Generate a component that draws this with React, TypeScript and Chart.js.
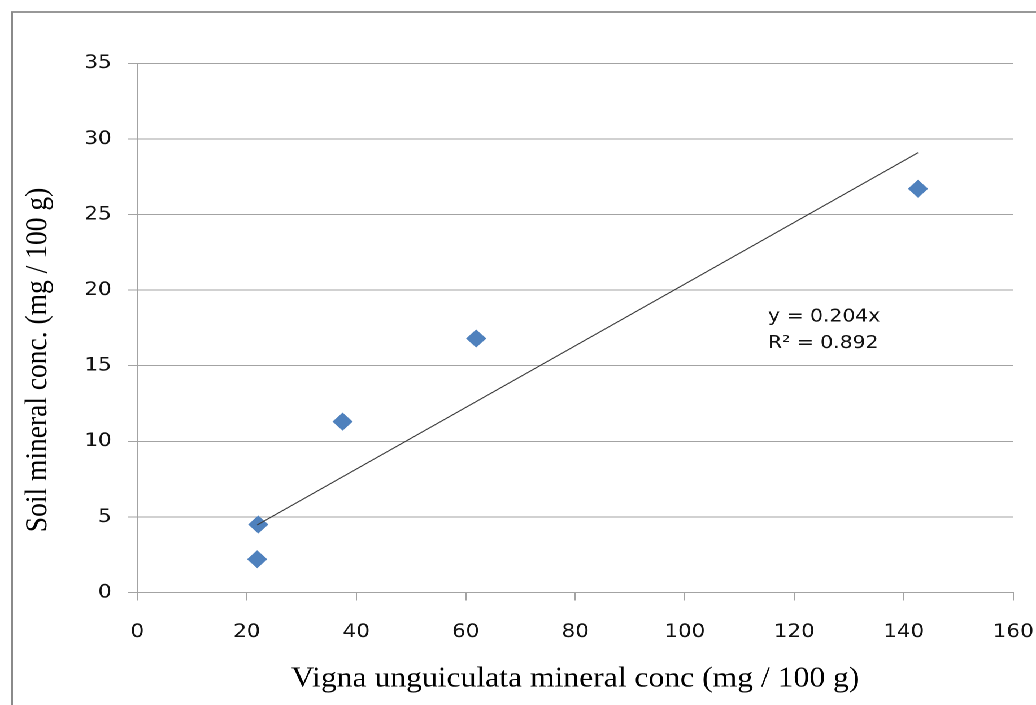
import React, { useEffect, useRef } from "react";
import { Chart, registerables } from "chart.js";

Chart.register(...registerables);

// Mineral concentrations (mg / 100 g): plant tissue vs. soil
const vignaConc = [21.9, 22.1, 37.5, 61.9, 142.6];
const soilConc = [2.2, 4.5, 11.3, 16.8, 26.7];

// Linear trend through the origin
const trendSlope = 0.204;
const trendR2 = 0.892;
const trendLabel = ["y = 0.204x", "R\u00B2 = 0.892"];

const xRange = [0, 160];
const xStep = 20;
const yRange = [0, 35];
const yStep = 5;

const xTitle = "Vigna unguiculata mineral conc (mg / 100 g)";
const yTitle = "Soil mineral conc. (mg / 100 g)";

// The figure is laid out on a narrower canvas and widened horizontally.
const CANVAS_W = 917;
const CANVAS_H = 705;
const STRETCH_X = 1036 / CANVAS_W;

const SANS = '"DejaVu Sans", Verdana, sans-serif';
const SERIF = '"Liberation Serif", "Times New Roman", serif';
const GRID = "#a3a3a3";
const TEXT = "#111111";

const decorations = {
  id: "decorations",
  beforeDraw(chart: any) {
    const ctx = chart.ctx;
    ctx.save();
    ctx.fillStyle = "#ffffff";
    ctx.fillRect(0, 0, chart.width, chart.height);
    // outer frame (left and top edges visible)
    ctx.strokeStyle = "#8a8a8a";
    ctx.lineWidth = 1.8;
    ctx.beginPath();
    ctx.moveTo(10.6, chart.height + 5);
    ctx.lineTo(10.6, 12);
    ctx.lineTo(chart.width + 5, 12);
    ctx.stroke();
    ctx.restore();
  },
  afterDraw(chart: any) {
    const ctx = chart.ctx;
    const area = chart.chartArea;
    ctx.save();
    ctx.fillStyle = "#000000";

    // x-axis title
    ctx.font = `28px ${SERIF}`;
    ctx.textAlign = "center";
    ctx.textBaseline = "alphabetic";
    ctx.fillText(xTitle, (area.left + area.right) / 2, 686.5);

    // y-axis title
    ctx.save();
    ctx.translate(33.6, 360);
    ctx.rotate(-Math.PI / 2);
    ctx.font = `27.5px ${SERIF}`;
    ctx.textAlign = "center";
    ctx.textBaseline = "middle";
    ctx.fillText(yTitle, 0, 0);
    ctx.restore();

    // trend equation
    ctx.font = `18px ${SANS}`;
    ctx.fillStyle = TEXT;
    ctx.textAlign = "left";
    ctx.textBaseline = "middle";
    ctx.fillText(trendLabel[0], 679.8, 316.7);
    ctx.fillText(trendLabel[1], 679.8, 343.3);
    ctx.restore();
  },
};

export default function App() {
  const canvasRef = useRef<HTMLCanvasElement | null>(null);

  useEffect(() => {
    if (!canvasRef.current) return;
    const xMin = Math.min(...vignaConc);
    const xMax = Math.max(...vignaConc);

    const chart = new Chart(canvasRef.current, {
      type: "scatter",
      data: {
        datasets: [
          {
            type: "line",
            label: "Linear trend",
            data: [
              { x: xMin, y: trendSlope * xMin },
              { x: xMax, y: trendSlope * xMax },
            ],
            borderColor: "#3c3c3c",
            borderWidth: 1.1,
            pointRadius: 0,
            fill: false,
            order: 0,
          },
          {
            type: "scatter",
            label: "Mineral conc.",
            data: vignaConc.map((x, i) => ({ x, y: soilConc[i] })),
            pointStyle: "rectRot",
            pointRadius: 9,
            backgroundColor: "#4F81BD",
            borderWidth: 0,
            order: 1,
          },
        ],
      },
      options: {
        animation: false,
        responsive: false,
        devicePixelRatio: 2,
        layout: { padding: { top: 63.3, right: 20.1, left: 0, bottom: 0 } },
        plugins: {
          legend: { display: false },
          tooltip: { enabled: false },
        },
        scales: {
          x: {
            type: "linear",
            min: xRange[0],
            max: xRange[1],
            ticks: {
              stepSize: xStep,
              font: { family: SANS, size: 19 },
              color: TEXT,
              padding: 20,
              maxRotation: 0,
            },
            grid: {
              drawOnChartArea: false,
              drawTicks: true,
              tickLength: 8,
              color: GRID,
            },
            border: { display: true, color: GRID, width: 1 },
            afterFit: (scale: any) => {
              scale.height = CANVAS_H - 592.5;
              scale.paddingLeft = 0;
              scale.paddingRight = 0;
            },
          },
          y: {
            type: "linear",
            min: yRange[0],
            max: yRange[1],
            ticks: {
              stepSize: yStep,
              font: { family: SANS, size: 19 },
              color: TEXT,
              padding: 14.6,
            },
            grid: {
              drawTicks: true,
              tickLength: 8,
              color: GRID,
            },
            border: { display: true, color: GRID, width: 1 },
            afterFit: (scale: any) => {
              scale.width = 121.5;
              scale.paddingTop = 0;
              scale.paddingBottom = 0;
            },
          },
        },
      },
      plugins: [decorations],
    });

    return () => chart.destroy();
  }, []);

  return (
    <div
      style={{
        position: "fixed",
        left: 0,
        top: 0,
        width: CANVAS_W,
        height: CANVAS_H,
        transform: `scaleX(${STRETCH_X})`,
        transformOrigin: "0 0",
        background: "#ffffff",
      }}
    >
      <canvas
        ref={canvasRef}
        width={CANVAS_W}
        height={CANVAS_H}
        style={{ width: CANVAS_W, height: CANVAS_H, display: "block" }}
      />
    </div>
  );
}
